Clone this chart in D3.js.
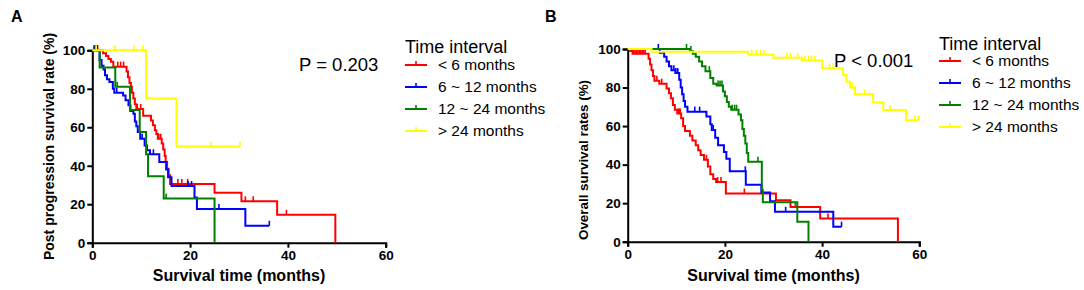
<!DOCTYPE html>
<html><head><meta charset="utf-8">
<script src="https://cdn.jsdelivr.net/npm/d3@7"></script>
<style>body{margin:0;background:#fff} svg{display:block} text{font-family:"Liberation Sans", Arial, sans-serif}</style>
</head><body><svg id="c" width="1084" height="290"></svg>
<script>
// ---------- DATA ----------
const groupNames = ["< 6 months", "6 ~ 12 months", "12 ~ 24 months", "> 24 months"];
const groupColors = ["#ff0000", "#0000ff", "#008000", "#ffff00"];
const xTicks = [0, 20, 40, 60];
const yTicks = [0, 20, 40, 60, 80, 100];

// Panel A: post progression survival (event times, survival % after event, censor times)
const ppsLt6Time = [2.2, 2.8, 3.3, 3.8, 4.3, 7.0, 7.3, 7.6, 7.9, 8.1, 8.4, 8.7, 9.0, 10.4, 12.0, 12.4, 12.8, 13.1, 13.4, 14.2, 14.5, 14.8, 15.0, 15.3, 15.6, 15.9, 25.0, 30.5, 37.8, 49.7];
const ppsLt6Surv = [98.5, 97, 95.5, 94, 91.5, 89, 86, 83, 81, 78, 75, 72, 69.5, 66, 63.5, 61, 58.5, 56.5, 54, 51.5, 48.5, 45, 42, 38.5, 35, 30.5, 26, 21.5, 14.5, 0];
const ppsLt6Cens = [0.3, 0.7, 1.1, 5.2, 5.8, 6.4, 9.2, 9.9, 13.6, 14.0, 17.5, 18.3, 19.5, 31.3, 32.9, 39.7];

const pps6to12Time = [1.5, 1.9, 2.3, 2.6, 3.0, 3.5, 4.2, 4.5, 6.3, 6.8, 7.4, 7.8, 8.4, 8.7, 9.0, 9.3, 9.8, 10.7, 11.2, 11.8, 13.7, 15.1, 15.5, 16.2, 20.9, 21.4, 31.3];
const pps6to12Surv = [95, 92, 90, 87, 85, 83.5, 80, 78, 76.5, 74, 71.5, 68.5, 67, 63, 60.5, 57.5, 54, 50.5, 48, 46, 42, 38, 34, 29.5, 23.5, 17.5, 8.8];
const pps6to12Cens = [0.5, 1.0, 5.0, 10.2, 11.2, 12.5, 19.6, 20.3, 25.9, 36.2];

const pps12to24Time = [1.5, 4.7, 7.7, 9.7, 11.0, 11.4, 14.6, 25.0];
const pps12to24Surv = [91, 81, 69, 57.5, 46, 34.5, 23, 0];
const pps12to24Cens = [0.6, 5.1, 15.1];

const ppsGt24Time = [11.0, 17.2];
const ppsGt24Surv = [75, 50];
const ppsGt24Cens = [0.8, 4.6, 8.5, 10.3, 24.3, 30.2];

// Panel B: overall survival
const osLt6Time = [0.5, 1.0, 4.3, 4.6, 4.9, 5.2, 5.5, 6.5, 8.0, 8.5, 8.9, 9.3, 9.7, 10.2, 11.0, 11.4, 11.8, 12.8, 13.3, 14.0, 14.5, 15.0, 15.7, 16.5, 17.0, 17.6, 18.2, 20.2, 30.5, 33.5, 39.6, 55.6];
const osLt6Surv = [99, 97.5, 95, 92, 89, 86, 83.5, 82, 79.5, 77, 74.5, 71, 68.5, 66.5, 64, 60, 57.5, 55, 52.5, 50, 47.5, 45, 42.5, 39, 35, 32.5, 31, 25, 21.5, 18, 12, 0];
const osLt6Cens = [1.2, 1.5, 1.8, 2.1, 2.4, 2.7, 3.0, 3.3, 3.6, 6.0, 7.0, 10.4, 10.6, 10.8, 16.2, 18.5, 19.2, 24.0, 34.5, 41.2];

const os6to12Time = [6.6, 7.5, 8.0, 8.5, 9.0, 9.8, 10.6, 10.9, 11.2, 11.5, 11.8, 12.3, 16.2, 17.0, 17.3, 18.0, 18.6, 19.8, 20.3, 21.0, 24.3, 27.5, 29.3, 30.3, 42.3];
const os6to12Surv = [98, 96, 93.5, 91, 89, 87.5, 84, 80, 76.5, 73, 70, 67.5, 65, 61, 58, 54, 50, 46.5, 43, 36.5, 29.5, 25.5, 21, 15.5, 7.8];
const os6to12Cens = [6.3, 9.5, 9.9, 10.3, 13.8, 14.8, 17.6, 24.2, 32.5, 44.0];

const os12to24Time = [12.8, 13.4, 14.0, 14.7, 15.3, 16.0, 17.0, 17.6, 18.3, 19.6, 20.0, 20.4, 20.8, 21.3, 22.8, 23.3, 23.6, 23.9, 24.2, 24.5, 24.8, 27.6, 27.8, 34.9, 37.2];
const os12to24Surv = [99, 97.5, 96, 93.5, 91, 88.5, 85, 82, 81, 78, 75.5, 72.5, 70, 68.5, 66, 63, 58.5, 55, 51, 46, 41.5, 27, 20.5, 10.3, 0];
const os12to24Cens = [12.1, 13.0, 16.8, 18.6, 19.0, 19.4, 21.5, 22.0, 22.4, 26.8];

const osGt24Time = [4.9, 24.8, 30.0, 35.8, 40.0, 44.3, 45.0, 45.8, 46.8, 50.5, 52.6, 57.3];
const osGt24Surv = [98.6, 97, 95.5, 94, 90, 86.5, 83, 80, 76.5, 72.3, 68.3, 63];
const osGt24Cens = [25.5, 26.5, 27.3, 28.0, 32.7, 33.5, 35.0, 36.5, 37.2, 37.8, 38.5, 41.5, 42.3, 46.2, 48.8, 54.0, 59.1, 59.8];

const panelA = {
  label: "A", pText: "P = 0.203", yTitle: "Post progression survival rate (%)",
  series: [[ppsLt6Time, ppsLt6Surv, ppsLt6Cens], [pps6to12Time, pps6to12Surv, pps6to12Cens],
           [pps12to24Time, pps12to24Surv, pps12to24Cens], [ppsGt24Time, ppsGt24Surv, ppsGt24Cens]]
};
const panelB = {
  label: "B", pText: "P < 0.001", yTitle: "Overall survival rates (%)",
  series: [[osLt6Time, osLt6Surv, osLt6Cens], [os6to12Time, os6to12Surv, os6to12Cens],
           [os12to24Time, os12to24Surv, os12to24Cens], [osGt24Time, osGt24Surv, osGt24Cens]]
};

// ---------- LAYOUT ----------
const svg = d3.select("#c");
svg.append("rect").attr("width", 1084).attr("height", 290).attr("fill", "#fff");
const FONT = '"Liberation Sans", Arial, sans-serif';

function drawPanel(p, L) {
  const x = d3.scaleLinear().domain([0, 60]).range([L.x0, L.x1]);
  const y = d3.scaleLinear().domain([0, 100]).range([L.y0, L.y1]);
  const g = svg.append("g");

  g.append("text").attr("x", L.labX).attr("y", L.labY).attr("font-size", 16).attr("font-weight", "bold").text(p.label);

  const xa = g.append("g").attr("transform", `translate(0,${L.y0})`)
    .call(d3.axisBottom(x).tickValues(xTicks).tickSizeOuter(0).tickSize(5).tickPadding(3));
  const ya = g.append("g").attr("transform", `translate(${L.x0},0)`)
    .call(d3.axisLeft(y).tickValues(yTicks).tickSizeOuter(0).tickSize(5).tickPadding(2));
  [xa, ya].forEach(a => {
    a.select(".domain").attr("stroke", "#000").attr("stroke-width", 2);
    a.selectAll(".tick line").attr("stroke", "#000").attr("stroke-width", 2);
    a.selectAll(".tick text").attr("font-family", FONT).attr("font-size", 13.5).attr("font-weight", "bold").attr("fill", "#000");
  });

  g.append("text").attr("x", (L.x0 + L.x1) / 2).attr("y", L.xTitleY).attr("text-anchor", "middle")
    .attr("font-size", 16).attr("font-weight", "bold").text("Survival time (months)");
  g.append("text").attr("transform", `translate(${L.yTitleX},${L.yTitleY}) rotate(-90)`)
    .attr("text-anchor", "middle").attr("dy", "0.35em").attr("font-size", L.yTitleSize).attr("font-weight", "bold").text(p.yTitle);

  const line = d3.line().x(d => x(d[0])).y(d => y(d[1])).curve(d3.curveStepAfter);
  p.series.forEach((s, i) => {
    const [times, surv, cens] = s;
    const pts = [[0, 100]];
    times.forEach((t, k) => pts.push([t, surv[k]]));
    const last = surv[surv.length - 1];
    const endT = Math.max(times[times.length - 1], cens.length ? cens[cens.length - 1] : 0);
    if (last > 0) pts.push([endT, last]);
    g.append("path").attr("d", line(pts)).attr("fill", "none").attr("stroke", groupColors[i]).attr("stroke-width", 2);
    const survAt = t => { let v = 100; times.forEach((tt, k) => { if (tt <= t) v = surv[k]; }); return v; };
    cens.forEach(c => {
      const sv = survAt(c);
      g.append("line").attr("x1", x(c)).attr("x2", x(c)).attr("y1", y(sv)).attr("y2", y(sv) - 5)
        .attr("stroke", groupColors[i]).attr("stroke-width", 1.6);
    });
  });

  g.append("text").attr("x", L.pX).attr("y", L.pY).attr("font-size", 18.5).text(p.pText);

  g.append("text").attr("x", L.legX).attr("y", L.legY).attr("font-size", 18).text("Time interval");
  groupNames.forEach((n, i) => {
    const yy = L.legY0 + i * 22;
    g.append("line").attr("x1", L.legX).attr("x2", L.legX + 22).attr("y1", yy).attr("y2", yy)
      .attr("stroke", groupColors[i]).attr("stroke-width", 2);
    g.append("line").attr("x1", L.legX + 11).attr("x2", L.legX + 11).attr("y1", yy).attr("y2", yy - 4)
      .attr("stroke", groupColors[i]).attr("stroke-width", 1.6);
    g.append("text").attr("x", L.legX + 33).attr("y", yy).attr("dy", "0.35em").attr("font-size", 15.5).text(n);
  });
}

drawPanel(panelA, { x0: 92.3, x1: 385.7, y0: 242.7, y1: 50.3, labX: 11, labY: 22, xTitleY: 281, yTitleX: 49, yTitleY: 146.5, yTitleSize: 14,
  pX: 299, pY: 71, legX: 405, legY: 52.5, legY0: 65 });
drawPanel(panelB, { x0: 627.7, x1: 919.3, y0: 241.7, y1: 49, labX: 545, labY: 22, xTitleY: 281, yTitleX: 583, yTitleY: 160, yTitleSize: 13.4,
  pX: 834, pY: 67, legX: 939, legY: 50, legY0: 61 });
</script></body></html>
